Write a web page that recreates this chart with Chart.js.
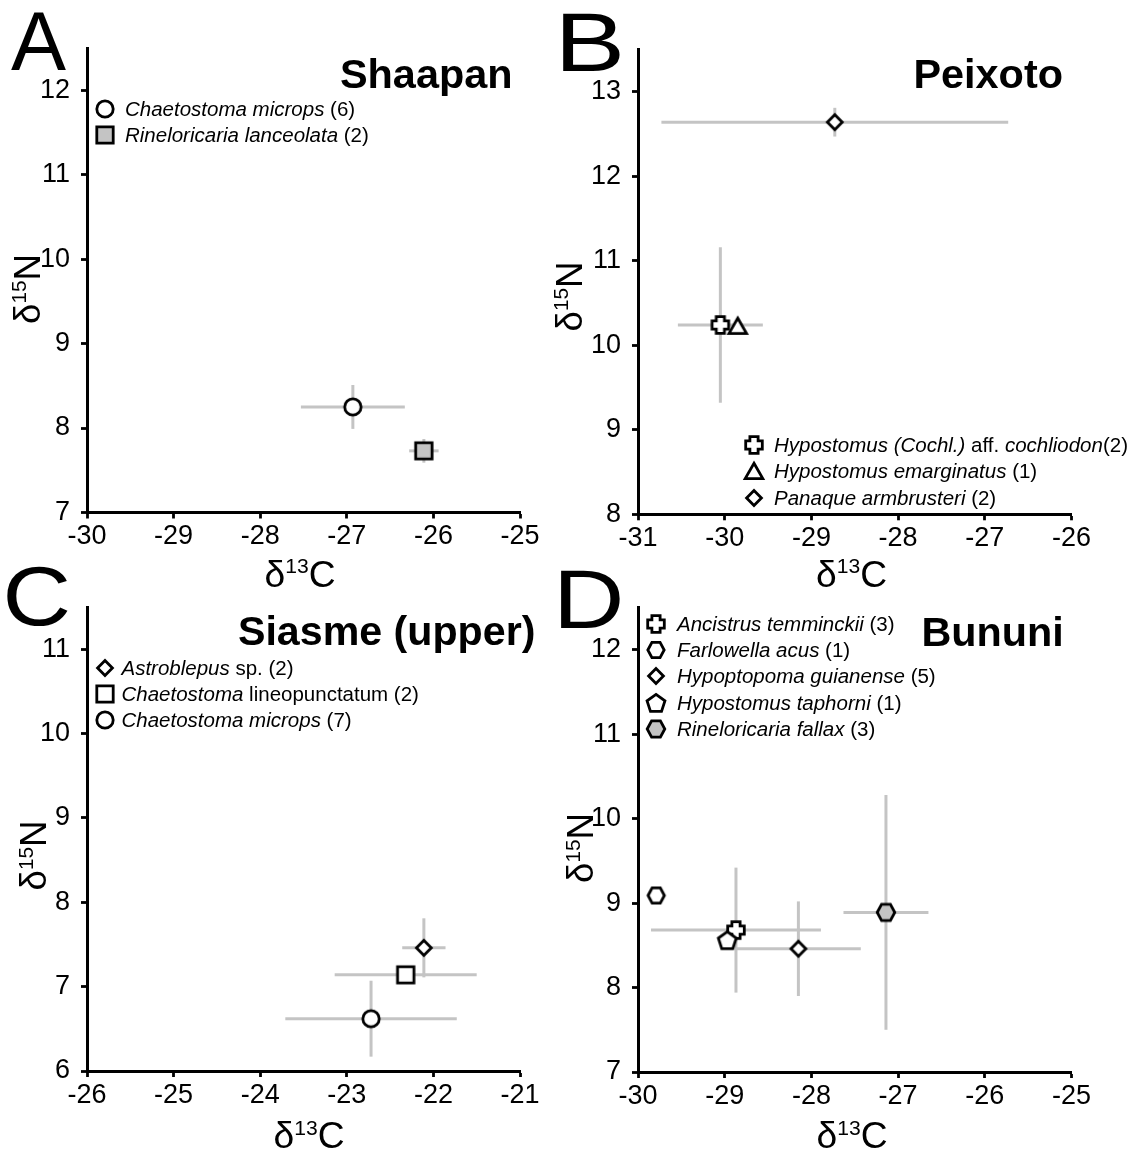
<!DOCTYPE html>
<html>
<head>
<meta charset="utf-8">
<script src="https://cdn.jsdelivr.net/npm/chart.js@4/dist/chart.umd.min.js"></script>
<style>
html,body{margin:0;padding:0;background:#fff;}
#wrap{position:relative;width:1136px;height:1152px;background:#fff;}
#wrap canvas{position:absolute;left:0;top:0;}
</style>
</head>
<body>
<div id="wrap">
<canvas id="cA" width="1136" height="1152"></canvas>
<canvas id="cB" width="1136" height="1152"></canvas>
<canvas id="cC" width="1136" height="1152"></canvas>
<canvas id="cD" width="1136" height="1152"></canvas>
</div>
<script>
const FONT = '"Liberation Sans", Arial, Helvetica, sans-serif';

// ---------------- Panel A : Shaapan ----------------
const A_species = ['Chaetostoma microps (6)', 'Rineloricaria lanceolata (2)'];
const A_legend = [
  [['Chaetostoma microps', 'i'], [' (6)', 'n']],
  [['Rineloricaria lanceolata', 'i'], [' (2)', 'n']]
];
const A_d13C = [-26.93, -26.11];
const A_d15N = [8.25, 7.73];
const A_sdC = [0.60, 0.17];
const A_sdN = [0.26, 0.14];
const A_shapes = ['circle', 'square'];
const A_fills = ['#ffffff', '#c4c4c4'];
const A_xTicks = [-30, -29, -28, -27, -26, -25];
const A_yTicks = [7, 8, 9, 10, 11, 12];
const A_yMax = 12.5;

// ---------------- Panel B : Peixoto ----------------
const B_species = ['Hypostomus (Cochl.) aff. cochliodon(2)', 'Hypostomus emarginatus (1)', 'Panaque armbrusteri (2)'];
const B_legend = [
  [['Hypostomus (Cochl.)', 'i'], [' aff. ', 'n'], ['cochliodon', 'i'], ['(2)', 'n']],
  [['Hypostomus emarginatus', 'i'], [' (1)', 'n']],
  [['Panaque armbrusteri', 'i'], [' (2)', 'n']]
];
const B_d13C = [-30.05, -29.85, -28.73];
const B_d15N = [10.24, 10.23, 12.64];
const B_sdC = [0.49, 0, 2.00];
const B_sdN = [0.92, 0, 0.17];
const B_shapes = ['cross', 'triangle', 'diamond'];
const B_fills = ['#ffffff', '#ffffff', '#ffffff'];
const B_xTicks = [-31, -30, -29, -28, -27, -26];
const B_yTicks = [8, 9, 10, 11, 12, 13];
const B_yMax = 13.5;

// ---------------- Panel C : Siasme (upper) ----------------
const C_species = ['Astroblepus sp. (2)', 'Chaetostoma lineopunctatum (2)', 'Chaetostoma microps (7)'];
const C_legend = [
  [['Astroblepus', 'i'], [' sp. (2)', 'n']],
  [['Chaetostoma', 'i'], [' lineopunctatum (2)', 'n']],
  [['Chaetostoma microps', 'i'], [' (7)', 'n']]
];
const C_d13C = [-22.11, -22.32, -22.72];
const C_d15N = [7.46, 7.14, 6.62];
const C_sdC = [0.25, 0.82, 0.99];
const C_sdN = [0.35, 0.08, 0.45];
const C_shapes = ['diamond', 'square', 'circle'];
const C_fills = ['#ffffff', '#ffffff', '#ffffff'];
const C_xTicks = [-26, -25, -24, -23, -22, -21];
const C_yTicks = [6, 7, 8, 9, 10, 11];
const C_yMax = 11.5;

// ---------------- Panel D : Bununi ----------------
const D_species = ['Ancistrus temminckii (3)', 'Farlowella acus (1)', 'Hypoptopoma guianense (5)', 'Hypostomus taphorni (1)', 'Rineloricaria fallax (3)'];
const D_legend = [
  [['Ancistrus temminckii', 'i'], [' (3)', 'n']],
  [['Farlowella acus', 'i'], [' (1)', 'n']],
  [['Hypoptopoma guianense', 'i'], [' (5)', 'n']],
  [['Hypostomus taphorni', 'i'], [' (1)', 'n']],
  [['Rineloricaria fallax', 'i'], [' (3)', 'n']]
];
const D_d13C = [-28.87, -29.79, -28.15, -28.97, -27.14];
const D_d15N = [8.68, 9.09, 8.46, 8.56, 8.89];
const D_sdC = [0.98, 0, 0.72, 0, 0.49];
const D_sdN = [0.74, 0, 0.56, 0, 1.39];
const D_shapes = ['cross', 'hexagon', 'diamond', 'pentagon', 'hexagonL'];
const D_fills = ['#ffffff', '#ffffff', '#ffffff', '#ffffff', '#c4c4c4'];
const D_xTicks = [-30, -29, -28, -27, -26, -25];
const D_yTicks = [7, 8, 9, 10, 11, 12];
const D_yMax = 12.5;

// ---------------- marker images ----------------
function makeMarker(shape, fill) {
  const S = 30;
  const c = document.createElement('canvas');
  c.width = S; c.height = S;
  const g = c.getContext('2d');
  g.translate(S / 2, S / 2);
  g.beginPath();
  const poly = pts => { g.moveTo(pts[0][0], pts[0][1]); for (let i = 1; i < pts.length; i++) g.lineTo(pts[i][0], pts[i][1]); g.closePath(); };
  if (shape === 'circle') {
    g.arc(0, 0, 8.2, 0, Math.PI * 2);
  } else if (shape === 'square') {
    g.rect(-8.2, -8.2, 16.4, 16.4);
  } else if (shape === 'diamond') {
    poly([[0, -7.4], [7.4, 0], [0, 7.4], [-7.4, 0]]);
  } else if (shape === 'triangle') {
    poly([[0, -7.8], [8.8, 7.6], [-8.8, 7.6]]);
  } else if (shape === 'cross') {
    const a = 8.3, b = 4.1;
    poly([[-b, -a], [b, -a], [b, -b], [a, -b], [a, b], [b, b], [b, a], [-b, a], [-b, b], [-a, b], [-a, -b], [-b, -b]]);
  } else if (shape === 'hexagon' || shape === 'hexagonL') {
    const k = shape === 'hexagonL' ? 1.1 : 1.02;
    poly([[-8 * k, 0], [-4 * k, -7.4 * k], [4 * k, -7.4 * k], [8 * k, 0], [4 * k, 7.4 * k], [-4 * k, 7.4 * k]]);
  } else if (shape === 'pentagon') {
    const pts = [];
    for (let i = 0; i < 5; i++) {
      const ang = -Math.PI / 2 + i * 2 * Math.PI / 5;
      pts.push([9.4 * Math.cos(ang), 9.4 * Math.sin(ang) + 0.8]);
    }
    poly(pts);
  }
  g.fillStyle = fill;
  g.fill();
  g.lineWidth = 2.8;
  g.lineJoin = 'miter';
  g.strokeStyle = '#000';
  g.stroke();
  return c;
}

// ---------------- text helpers ----------------
function fitText(ctx, text, font, left, right, baseline) {
  ctx.save();
  ctx.font = font;
  ctx.textAlign = 'left';
  ctx.textBaseline = 'alphabetic';
  ctx.fillStyle = '#000';
  const m = ctx.measureText(text);
  const inkL = -m.actualBoundingBoxLeft, inkR = m.actualBoundingBoxRight;
  const sx = (right - left) / (inkR - inkL);
  ctx.translate(left, baseline);
  ctx.scale(sx, 1);
  ctx.fillText(text, -inkL, 0);
  ctx.restore();
}

function drawIso(ctx, sup, el, cx, cy, rotated, len) {
  const main = 37, supS = 21;
  ctx.save();
  ctx.fillStyle = '#000';
  ctx.textAlign = 'left';
  ctx.textBaseline = 'alphabetic';
  ctx.translate(cx, cy);
  if (rotated) ctx.rotate(-Math.PI / 2);
  ctx.font = main + 'px ' + FONT;
  const wd = ctx.measureText('δ').width;
  const we = ctx.measureText(el).width;
  ctx.font = supS + 'px ' + FONT;
  const ws = ctx.measureText(sup).width;
  const total = wd + ws + we;
  ctx.scale(len / total, 1);
  let x = -total / 2;
  ctx.font = main + 'px ' + FONT;
  ctx.fillText('δ', x, 0); x += wd;
  ctx.font = supS + 'px ' + FONT;
  ctx.fillText(sup, x, -main * 0.36); x += ws;
  ctx.font = main + 'px ' + FONT;
  ctx.fillText(el, x, 0);
  ctx.restore();
}

function drawSegs(ctx, segs, x, y) {
  ctx.save();
  ctx.fillStyle = '#000';
  ctx.textAlign = 'left';
  ctx.textBaseline = 'alphabetic';
  let cx = x;
  for (const [t, st] of segs) {
    ctx.font = (st === 'i' ? 'italic ' : '') + '20.5px ' + FONT;
    ctx.fillText(t, cx, y);
    cx += ctx.measureText(t).width;
  }
  ctx.restore();
}

// ---------------- plugins ----------------
const errBars = {
  id: 'errBars',
  beforeDatasetsDraw(chart) {
    const ctx = chart.ctx, xs = chart.scales.x, ys = chart.scales.y;
    ctx.save();
    ctx.strokeStyle = '#c4c4c4';
    ctx.lineWidth = 3;
    ctx.lineCap = 'butt';
    chart.data.datasets.forEach(ds => {
      ds.data.forEach(p => {
        const px = xs.getPixelForValue(p.x), py = ys.getPixelForValue(p.y);
        if (p.ex > 0) {
          ctx.beginPath();
          ctx.moveTo(xs.getPixelForValue(p.x - p.ex), py);
          ctx.lineTo(xs.getPixelForValue(p.x + p.ex), py);
          ctx.stroke();
        }
        if (p.ey > 0) {
          ctx.beginPath();
          ctx.moveTo(px, ys.getPixelForValue(p.y - p.ey));
          ctx.lineTo(px, ys.getPixelForValue(p.y + p.ey));
          ctx.stroke();
        }
      });
    });
    ctx.restore();
  }
};

const decor = {
  id: 'decor',
  afterDraw(chart, args, o) {
    const ctx = chart.ctx;
    fitText(ctx, o.letter, '84px ' + FONT, o.letterBox[0], o.letterBox[1], o.letterBox[2]);
    fitText(ctx, o.title, 'bold 40px ' + FONT, o.titleBox[0], o.titleBox[1], o.titleBox[2]);
    drawIso(ctx, '13', 'C', o.xTitle[0], o.xTitle[1], false, 71);
    drawIso(ctx, '15', 'N', o.yTitle[0], o.yTitle[1], true, 70);
    const L = o.legend;
    chart.data.datasets.forEach((ds, i) => {
      const cy = L.y0 + i * L.dy;
      const img = ds.pointStyle;
      ctx.drawImage(img, Math.round(L.mx - img.width / 2), Math.round(cy - img.height / 2));
      drawSegs(ctx, L.segs[i], L.tx, cy + 7);
    });
  }
};

Chart.register(errBars, decor);

function buildDatasets(species, xs, ys, sx, sy, shapes, fills) {
  return species.map((s, i) => ({
    label: s,
    data: [{ x: xs[i], y: ys[i], ex: sx[i], ey: sy[i] }],
    pointStyle: makeMarker(shapes[i], fills[i]),
    pointRadius: 9,
    pointHoverRadius: 9,
    order: species.length - i
  }));
}

function axis(min, max, isY) {
  return {
    type: 'linear',
    position: isY ? 'left' : 'bottom',
    min: min,
    max: max,
    ticks: {
      stepSize: 1,
      includeBounds: false,
      autoSkip: false,
      maxRotation: 0,
      color: '#000',
      padding: isY ? 11 : 2,
      font: { size: 27, family: FONT }
    },
    grid: {
      drawOnChartArea: false,
      drawTicks: true,
      tickLength: 6,
      tickWidth: 2.8,
      tickColor: '#000',
      color: '#000'
    },
    border: { display: true, color: '#000', width: 3 },
    afterFit: isY ? (s => { s.width = 60; }) : (s => { s.height = 45; })
  };
}

function makePanel(id, datasets, xTicks, yTicks, yMax, pad, decorOpts) {
  return new Chart(document.getElementById(id), {
    type: 'scatter',
    data: { datasets: datasets },
    options: {
      responsive: false,
      animation: false,
      events: [],
      layout: { padding: pad },
      plugins: {
        legend: { display: false },
        tooltip: { enabled: false },
        decor: decorOpts
      },
      scales: {
        x: axis(xTicks[0], xTicks[xTicks.length - 1], false),
        y: axis(yTicks[0], yMax, true)
      }
    }
  });
}

makePanel('cA', buildDatasets(A_species, A_d13C, A_d15N, A_sdC, A_sdN, A_shapes, A_fills),
  A_xTicks, A_yTicks, A_yMax,
  { left: 27, right: 616, top: 48, bottom: 594.5 },
  { letter: 'A', letterBox: [11, 66, 69.5], title: 'Shaapan', titleBox: [341, 510, 87.5],
    xTitle: [300, 586.5], yTitle: [39.5, 289],
    legend: { mx: 105, tx: 125, y0: 109, dy: 26, segs: A_legend } });

makePanel('cB', buildDatasets(B_species, B_d13C, B_d15N, B_sdC, B_sdN, B_shapes, B_fills),
  B_xTicks, B_yTicks, B_yMax,
  { left: 578, right: 64.5, top: 49.5, bottom: 592.7 },
  { letter: 'B', letterBox: [562, 620, 71], title: 'Peixoto', titleBox: [915.5, 1061.5, 87.5],
    xTitle: [851.5, 586.5], yTitle: [581.5, 296.5],
    legend: { mx: 754, tx: 774, y0: 445, dy: 26.3, segs: B_legend } });

makePanel('cC', buildDatasets(C_species, C_d13C, C_d15N, C_sdC, C_sdN, C_shapes, C_fills),
  C_xTicks, C_yTicks, C_yMax,
  { left: 27, right: 616, top: 607, bottom: 36 },
  { letter: 'C', letterBox: [7, 68, 625], title: 'Siasme (upper)', titleBox: [239, 534, 644.5],
    xTitle: [309, 1148], yTitle: [46, 855.5],
    legend: { mx: 105, tx: 121.5, y0: 668, dy: 26, segs: C_legend } });

makePanel('cD', buildDatasets(D_species, D_d13C, D_d15N, D_sdC, D_sdN, D_shapes, D_fills),
  D_xTicks, D_yTicks, D_yMax,
  { left: 578, right: 64.5, top: 607.5, bottom: 35 },
  { letter: 'D', letterBox: [560, 620, 628], title: 'Bununi', titleBox: [923.5, 1061.5, 645.5],
    xTitle: [852, 1148], yTitle: [593, 848],
    legend: { mx: 656, tx: 677, y0: 623.5, dy: 26.4, segs: D_legend } });
</script>
</body>
</html>
